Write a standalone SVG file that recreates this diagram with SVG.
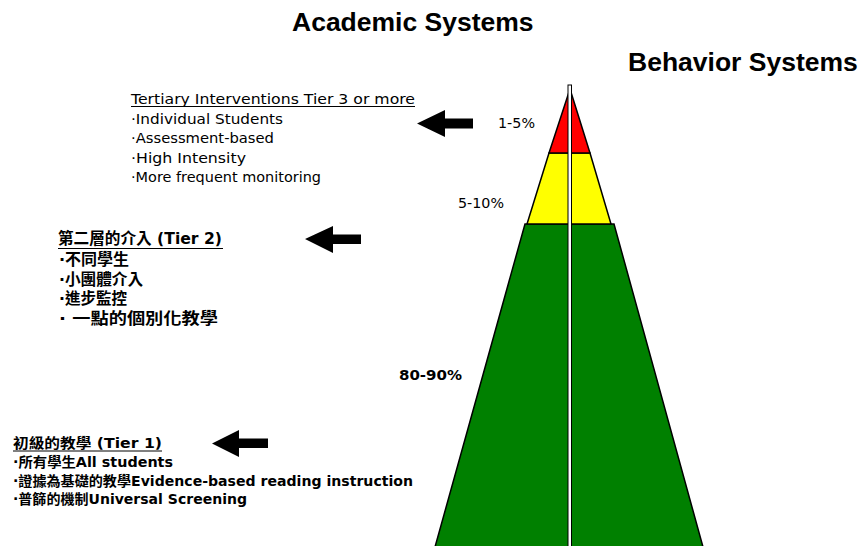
<svg xmlns="http://www.w3.org/2000/svg" width="862" height="546" viewBox="0 0 862 546">
<style>
.h{font-family:"Liberation Sans",Arial,sans-serif;font-weight:bold;font-size:26.5px;fill:#000}
.t{font-family:"DejaVu Sans","Noto Sans CJK TC",sans-serif;font-size:13.5px;fill:#000}
.b{font-family:"DejaVu Sans","Noto Sans CJK TC",sans-serif;font-weight:bold;font-size:13.5px;fill:#000}
.c{font-family:"DejaVu Sans","Noto Sans CJK TC",sans-serif;font-weight:bold;font-size:15.5px;fill:#000}
.p{font-family:"DejaVu Sans",sans-serif;font-size:14px;fill:#000}
.tier{stroke:#000;stroke-width:1.5;stroke-linejoin:miter}
.ul{stroke:#000;stroke-width:1}
.arrow{fill:#000}
</style>
<rect width="862" height="546" fill="#fff"/>
<g id="title-academic"><text class="h" x="292" y="31">Academic Systems</text></g>
<g id="title-behavior"><text class="h" x="628" y="71">Behavior Systems</text></g>
<g id="pyramid">
<polygon class="tier" fill="#008000" points="525,224 614,224 703,547 435,547"/>
<polygon class="tier" fill="#ffff00" points="549,153 590,153 611,224 527,224"/>
<polygon class="tier" fill="#ff0000" points="570,89 590,153 549,153"/>
<rect x="568" y="85" width="3.5" height="465" fill="#fff" stroke="#000" stroke-width="1"/>
</g>
<g id="label-tier3-pct"><text class="p" x="498" y="128" textLength="37" lengthAdjust="spacingAndGlyphs">1-5%</text></g>
<g id="label-tier2-pct"><text class="p" x="458" y="208" textLength="46" lengthAdjust="spacingAndGlyphs">5-10%</text></g>
<g id="label-tier1-pct"><text class="p" x="399" y="380" font-weight="bold" textLength="63" lengthAdjust="spacingAndGlyphs">80-90%</text></g>
<g id="tier3-text">
<text class="t" x="131" y="104" textLength="284" lengthAdjust="spacingAndGlyphs">Tertiary Interventions Tier 3 or more</text>
<line class="ul" x1="131" y1="106.5" x2="415" y2="106.5"/>
<text class="t" x="131" y="123.5" textLength="152" lengthAdjust="spacingAndGlyphs">·Individual Students</text>
<text class="t" x="131" y="143" textLength="143" lengthAdjust="spacingAndGlyphs">·Assessment-based</text>
<text class="t" x="131" y="162.5" textLength="115" lengthAdjust="spacingAndGlyphs">·High Intensity</text>
<text class="t" x="131" y="182" textLength="190" lengthAdjust="spacingAndGlyphs">·More frequent monitoring</text>
</g>
<g id="tier2-text">
<text class="c" x="58" y="244" font-size="14.5px" textLength="164" lengthAdjust="spacingAndGlyphs">第二層的介入 (Tier 2)</text>
<line class="ul" x1="58" y1="248.5" x2="223" y2="248.5"/>
<text class="c" x="59" y="265" textLength="70" lengthAdjust="spacingAndGlyphs">·不同學生</text>
<text class="c" x="59" y="285" textLength="84" lengthAdjust="spacingAndGlyphs">·小團體介入</text>
<text class="c" x="59" y="304" textLength="68" lengthAdjust="spacingAndGlyphs">·進步監控</text>
<text class="c" x="59" y="324" textLength="159" lengthAdjust="spacingAndGlyphs">· 一點的個別化教學</text>
</g>
<g id="tier1-text">
<text class="b" x="13" y="448" font-size="14.5px" textLength="149" lengthAdjust="spacingAndGlyphs">初級的教學 (Tier 1)</text>
<line class="ul" x1="13" y1="451" x2="162" y2="451"/>
<text class="b" x="13" y="467" textLength="160" lengthAdjust="spacingAndGlyphs">·所有學生All students</text>
<text class="b" x="13" y="486" textLength="400" lengthAdjust="spacingAndGlyphs">·證據為基礎的教學Evidence-based reading instruction</text>
<text class="b" x="13" y="504" textLength="234" lengthAdjust="spacingAndGlyphs">·普篩的機制Universal Screening</text>
</g>
<g id="connectors">
<polygon class="arrow" points="417,123.5 445,110 445,118.5 473,118.5 473,128.5 445,128.5 445,137"/>
<polygon class="arrow" points="305,239 333,226 333,234.5 361,234.5 361,244 333,244 333,253"/>
<polygon class="arrow" points="212,443.5 239,430 239,438.5 268,438.5 268,448 239,448 239,457"/>
</g>
</svg>
